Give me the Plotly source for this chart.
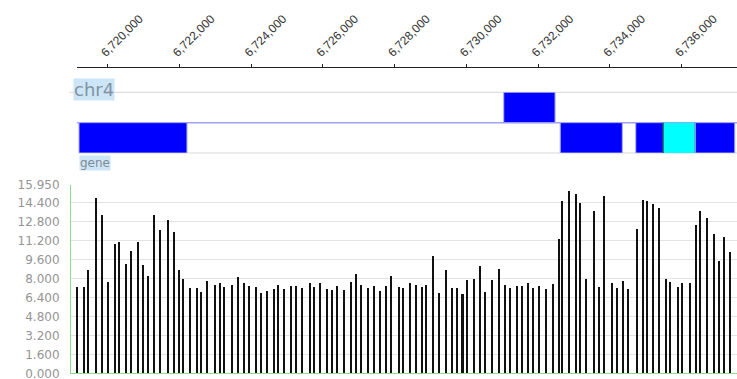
import plotly.graph_objects as go

# ---- data -------------------------------------------------------------
chrom = "chr4"
track_name = "gene"

# coverage bars: genomic position and signal value
bar_pos = [
    6719153, 6719339, 6719459, 6719665, 6719849, 6720017, 6720203, 6720315, 6720510, 6720641,
    6720853, 6720992, 6721115, 6721282, 6721466, 6721673, 6721840, 6721988, 6722107, 6722302,
    6722481, 6722609, 6722760, 6722991, 6723139, 6723250, 6723457, 6723624, 6723808, 6723947,
    6724134, 6724265, 6724441, 6724636, 6724747, 6724906, 6725101, 6725257, 6725416, 6725639,
    6725759, 6725910, 6726121, 6726252, 6726400, 6726587, 6726782, 6726913, 6727061, 6727248,
    6727415, 6727599, 6727766, 6727889, 6728112, 6728223, 6728418, 6728594, 6728761, 6728881,
    6729076, 6729243, 6729422, 6729606, 6729729, 6729890, 6730024, 6730219, 6730378, 6730526,
    6730721, 6730899, 6731083, 6731222, 6731409, 6731549, 6731724, 6731864, 6732023, 6732226,
    6732404, 6732572, 6732672, 6732850, 6733054, 6733174, 6733341, 6733547, 6733687, 6733843,
    6734049, 6734188, 6734364, 6734512, 6734746, 6734913, 6735033, 6735200, 6735359, 6735563,
    6735683, 6735889, 6736009, 6736232, 6736391, 6736519, 6736705, 6736901, 6737048, 6737171,
    6737338,
]
bar_val = [
    7.32, 7.32, 8.73, 14.88, 13.44, 7.74, 10.93, 11.10, 9.30, 10.34,
    11.10, 9.21, 8.25, 13.44, 12.11, 12.99, 11.94, 8.79, 7.97, 7.24,
    7.24, 6.90, 7.83, 7.52, 7.66, 7.32, 7.52, 8.17, 7.66, 7.41,
    7.32, 6.79, 6.98, 7.15, 7.49, 7.15, 7.41, 7.41, 7.24, 7.66,
    7.32, 7.66, 7.15, 7.07, 7.41, 7.07, 7.74, 8.45, 7.49, 7.24,
    7.41, 6.98, 7.41, 8.25, 7.32, 7.24, 7.66, 7.49, 7.32, 7.49,
    9.97, 6.79, 8.73, 7.24, 7.24, 6.73, 7.95, 8.00, 9.13, 6.90,
    7.95, 8.88, 7.49, 7.24, 7.41, 7.41, 7.66, 7.24, 7.41, 7.15,
    7.57, 11.35, 14.59, 15.47, 15.21, 14.42, 8.00, 13.78, 7.32, 15.05,
    7.66, 7.24, 7.83, 7.15, 12.20, 14.68, 14.59, 14.34, 14.00, 8.00,
    7.74, 7.32, 7.66, 7.66, 12.54, 13.78, 13.15, 11.80, 9.49, 11.52,
    10.25,
]

# y axis ticks of the coverage panel
y_ticks = [0.0, 1.6, 3.2, 4.8, 6.4, 8.0, 9.6, 11.2, 12.8, 14.4, 15.95]

# genomic ruler ticks
ruler_ticks = [6720000, 6722000, 6724000, 6726000, 6728000, 6730000, 6732000, 6734000, 6736000]

# gene features: start, end, row (0 = lower, 1 = upper), kind
feat_start = [6719200, 6731040, 6732615, 6734720, 6735480, 6736380]
feat_end = [6722210, 6732470, 6734345, 6735480, 6736380, 6737480]
feat_row = [0, 1, 0, 0, 0, 0]
feat_kind = ["block", "block", "block", "block", "mark", "block"]

# visible genomic window
X_START, X_END = 6718977, 6737542
RULER_START = 6719144

# ---- styling -----------------------------------------------------------
W, H = 737, 379
LEFT = 71
GREEN = "#8fdc8f"
GRID = "#e3e3e3"
BLUE = "#0000ff"
CYAN = "#00ffff"
LABEL_BG = "#cde6f7"


def py(px):
    """pixel row (from top) -> paper y"""
    return 1 - px / H


def pxx(px):
    """pixel column -> paper x of the plot area"""
    return (px - LEFT) / (W - LEFT)


fig = go.Figure()

fig.add_trace(go.Bar(
    x=bar_pos, y=bar_val, width=60,
    marker=dict(color="#111111", line=dict(width=0)),
    xaxis="x", yaxis="y", showlegend=False, hoverinfo="x+y",
))

# dummy trace so the ruler axis and track axis are laid out
fig.add_trace(go.Scatter(x=[], y=[], xaxis="x2", yaxis="y2", showlegend=False))

shapes = []
# track separator lines
shapes.append(dict(type="line", xref="paper", yref="paper",
                   x0=pxx(69), x1=1, y0=py(92.3), y1=py(92.3),
                   line=dict(color="#d8d8d8", width=1)))
shapes.append(dict(type="line", xref="paper", yref="paper",
                   x0=pxx(77), x1=1, y0=py(122.7), y1=py(122.7),
                   line=dict(color="#a0a0f0", width=1.5)))
shapes.append(dict(type="line", xref="paper", yref="paper",
                   x0=pxx(78), x1=1, y0=py(153), y1=py(153),
                   line=dict(color="#d8d8d8", width=1)))

# gene feature boxes
for s, e, r, k in zip(feat_start, feat_end, feat_row, feat_kind):
    if k == "mark":
        shapes.append(dict(type="rect", xref="x", yref="y2",
                           x0=s, x1=e, y0=r, y1=r + 1,
                           fillcolor=CYAN, line=dict(width=0), layer="above"))
        for edge in (s, e):
            shapes.append(dict(type="line", xref="x", yref="y2",
                               x0=edge, x1=edge, y0=r, y1=r + 1,
                               line=dict(color="#111111", width=1), layer="above"))
    else:
        shapes.append(dict(type="rect", xref="x", yref="y2",
                           x0=s, x1=e, y0=r, y1=r + 1,
                           fillcolor=BLUE, line=dict(color="#a8a8ff", width=1),
                           layer="above"))

annotations = [
    dict(text=chrom, xref="paper", yref="paper", x=pxx(73), y=py(78),
         xanchor="left", yanchor="top", showarrow=False,
         font=dict(family="DejaVu Sans", size=18, color="#8292a2"),
         bgcolor=LABEL_BG, borderpad=0),
    dict(text=track_name, xref="paper", yref="paper", x=pxx(79), y=py(155),
         xanchor="left", yanchor="top", showarrow=False,
         font=dict(family="DejaVu Sans", size=12, color="#808a94"),
         bgcolor=LABEL_BG, borderpad=0),
]

fig.update_layout(
    width=W, height=H,
    margin=dict(l=LEFT, r=0, t=0, b=0, autoexpand=False),
    paper_bgcolor="white", plot_bgcolor="white",
    bargap=0,
    shapes=shapes, annotations=annotations,
    xaxis=dict(
        domain=[0, 1], range=[X_START, X_END], anchor="y", automargin=False,
        showline=True, linecolor=GREEN, linewidth=1,
        showticklabels=False, ticks="", showgrid=False, zeroline=False,
    ),
    yaxis=dict(
        domain=[py(373.3), py(184.6)], range=[0, 15.95], anchor="x", automargin=False,
        tickvals=y_ticks, ticktext=[f"{v:.3f}" for v in y_ticks],
        tickfont=dict(family="DejaVu Sans", size=12, color="#959595"),
        ticklabeloverflow="allow",
        showline=True, linecolor=GREEN, linewidth=1,
        showgrid=True, gridcolor=GRID, gridwidth=1, zeroline=False,
        ticks="", ticklabelstandoff=8,
    ),
    xaxis2=dict(
        domain=[pxx(77), 1], range=[RULER_START, X_END], automargin=False,
        side="top", anchor="free", position=py(67),
        tickvals=ruler_ticks, ticktext=[f"{v:,}" for v in ruler_ticks],
        tickangle=-45,
        tickfont=dict(family="Liberation Sans", size=12, color="#333333"),
        ticks="outside", ticklen=3, tickcolor="#222222",
        ticklabelshift=-6,
        showline=True, linecolor="#222222", linewidth=1,
        showgrid=False, zeroline=False,
    ),
    yaxis2=dict(
        domain=[py(153), py(92.3)], range=[0, 2], anchor="x2", automargin=False,
        visible=False, showgrid=False, zeroline=False,
    ),
)

fig.write_html("out.html")
